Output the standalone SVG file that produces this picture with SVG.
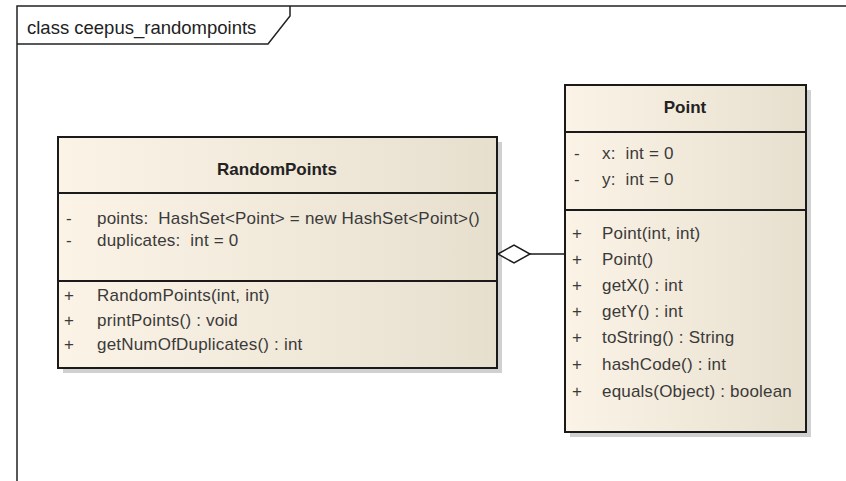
<svg xmlns="http://www.w3.org/2000/svg" width="846" height="481" viewBox="0 0 846 481">
<defs>
<linearGradient id="fill" x1="0" y1="0" x2="1" y2="0">
<stop offset="0" stop-color="#fbf3e6"/>
<stop offset="1" stop-color="#e7dfce"/>
</linearGradient>
<style>
.frame{fill:none;stroke:#222;stroke-width:1.5}
.box{fill:url(#fill);stroke:#1a1a1a;stroke-width:2}
.shadow{fill:#c4c4c4;opacity:0.8}
.sep{stroke:#1a1a1a;stroke-width:2}
.title{font-family:"Liberation Sans",Arial,sans-serif;font-size:17px;font-weight:bold;fill:#222;text-anchor:middle}
.mem{font-family:"Liberation Sans",Arial,sans-serif;font-size:17px;fill:#3a3a3a;white-space:pre;letter-spacing:0.2px}
.lbl{font-family:"Liberation Sans",Arial,sans-serif;font-size:18.5px;fill:#222}
.conn{fill:none;stroke:#1a1a1a;stroke-width:1.5}
</style>
</defs>
<rect width="846" height="481" fill="#fff"/>
<g id="frame">
<path class="frame" d="M17,481 V6 H846"/>
<path class="frame" d="M17,44 H268 L290,16 V6"/>
<text class="lbl" x="27" y="34">class ceepus_randompoints</text>
</g>
<g id="RandomPoints">
<rect class="shadow" x="63" y="142" width="439" height="231"/>
<rect class="box" x="58" y="137" width="439" height="231"/>
<line class="sep" x1="58" y1="193" x2="497" y2="193"/>
<line class="sep" x1="58" y1="281" x2="497" y2="281"/>
<text class="title" x="277" y="175">RandomPoints</text>
<text class="mem" x="66" y="224">-</text>
<text class="mem" x="97" y="224">points:  HashSet&lt;Point&gt; = new HashSet&lt;Point&gt;()</text>
<text class="mem" x="66" y="246">-</text>
<text class="mem" x="97" y="246">duplicates:  int = 0</text>
<text class="mem" x="64" y="301">+</text>
<text class="mem" x="97" y="301">RandomPoints(int, int)</text>
<text class="mem" x="64" y="326">+</text>
<text class="mem" x="97" y="326">printPoints() : void</text>
<text class="mem" x="64" y="350">+</text>
<text class="mem" x="97" y="350">getNumOfDuplicates() : int</text>
</g>
<g id="Point">
<rect class="shadow" x="570" y="90" width="241" height="347"/>
<rect class="box" x="565" y="85" width="241" height="347"/>
<line class="sep" x1="565" y1="132" x2="806" y2="132"/>
<line class="sep" x1="565" y1="210" x2="806" y2="210"/>
<text class="title" x="685" y="113">Point</text>
<text class="mem" x="574" y="159">-</text>
<text class="mem" x="602" y="159">x:  int = 0</text>
<text class="mem" x="574" y="185">-</text>
<text class="mem" x="602" y="185">y:  int = 0</text>
<text class="mem" x="572" y="239">+</text>
<text class="mem" x="602" y="239">Point(int, int)</text>
<text class="mem" x="572" y="265">+</text>
<text class="mem" x="602" y="265">Point()</text>
<text class="mem" x="572" y="291">+</text>
<text class="mem" x="602" y="291">getX() : int</text>
<text class="mem" x="572" y="317">+</text>
<text class="mem" x="602" y="317">getY() : int</text>
<text class="mem" x="572" y="343">+</text>
<text class="mem" x="602" y="343">toString() : String</text>
<text class="mem" x="572" y="370">+</text>
<text class="mem" x="602" y="370">hashCode() : int</text>
<text class="mem" x="572" y="397">+</text>
<text class="mem" x="602" y="397">equals(Object) : boolean</text>
</g>
<g id="connectors">
<path class="conn" d="M530,254 H565"/>
<path class="conn" d="M498,254 L514,245 L530,254 L514,263 Z" style="fill:#fff"/>
</g>
</svg>
